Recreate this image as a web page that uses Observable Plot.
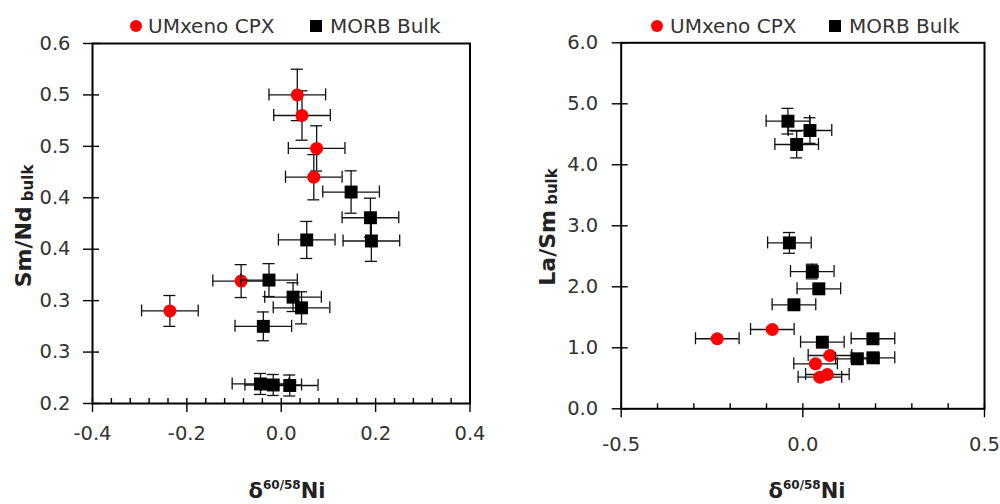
<!DOCTYPE html>
<html>
<head>
<meta charset="utf-8">
<script src="https://cdn.jsdelivr.net/npm/d3@7"></script>
<script src="https://cdn.jsdelivr.net/npm/@observablehq/plot@0.6"></script>
<style>
  body { margin: 0; background: #fff; }
  #wrap { position: relative; width: 1000px; height: 504px; font-family: "DejaVu Sans", sans-serif; color: #222; overflow: hidden; }
  .panel { position: absolute; top: 0; width: 500px; height: 504px; }
  .leg { position: absolute; font-size: 20px; line-height: 1; white-space: nowrap; color: #333; transform: translateY(-50%); }
  .dot { position: absolute; width: 12px; height: 12px; border-radius: 50%; background: #ff0000; transform: translate(-50%, -50%); }
  .sq { position: absolute; width: 12px; height: 12px; background: #000; transform: translate(-50%, -50%); }
  .xt { position: absolute; font-weight: bold; font-size: 21px; line-height: 1; white-space: nowrap; transform: translate(-50%, -50%); color: #222; }
  .xt sup { font-size: 12px; line-height: 0; vertical-align: 0.7em; }
  .yt { position: absolute; font-weight: bold; font-size: 22px; line-height: 1; white-space: nowrap; transform: translate(-50%, -50%) rotate(-90deg); color: #222; }
  .yt sub { font-size: 15px; line-height: 0; vertical-align: -0.15em; }
</style>
</head>
<body>
<div id="wrap">
  <div class="panel" id="left" style="left:0"></div>
  <div class="panel" id="right" style="left:500px"></div>

  <div class="dot" style="left:136px;top:26px"></div>
  <div class="leg" style="left:148px;top:26px">UMxeno CPX</div>
  <div class="sq" style="left:316px;top:26px"></div>
  <div class="leg" style="left:330px;top:26px">MORB Bulk</div>

  <div class="dot" style="left:657px;top:26px"></div>
  <div class="leg" style="left:670px;top:26px">UMxeno CPX</div>
  <div class="sq" style="left:835px;top:26px"></div>
  <div class="leg" style="left:849px;top:26px">MORB Bulk</div>

  <div class="xt" style="left:287px;top:491px">δ<sup>60/58</sup>Ni</div>
  <div class="xt" style="left:807px;top:491px">δ<sup>60/58</sup>Ni</div>
  <div class="yt" style="left:24px;top:226px">Sm/Nd<sub> bulk</sub></div>
  <div class="yt" style="left:548px;top:227px">La/Sm<sub> bulk</sub></div>
</div>
<script>
// ---- Left panel: Sm/Nd (bulk) vs δ60/58Ni ----
const smndCpxX  = [0.034, 0.044, 0.075, 0.069, -0.085, -0.236];
const smndCpxY  = [0.500, 0.480, 0.448, 0.420, 0.319, 0.290];
const smndCpxEx = [0.06, 0.06, 0.06, 0.06, 0.06, 0.06];
const smndCpxEy = [0.025, 0.024, 0.022, 0.022, 0.016, 0.015];

const smndMorbX  = [0.148, 0.189, 0.191, 0.054, -0.026, 0.025, 0.043, -0.038, -0.044, -0.017, 0.018];
const smndMorbY  = [0.4056, 0.3806, 0.358, 0.359, 0.320, 0.3034, 0.293, 0.275, 0.219, 0.218, 0.2175];
const smndMorbEx = [0.06, 0.06, 0.06, 0.06, 0.06, 0.06, 0.06, 0.06, 0.06, 0.06, 0.06];
const smndMorbEy = [0.0206, 0.019, 0.0198, 0.018, 0.016, 0.014, 0.0156, 0.014, 0.0102, 0.0102, 0.0102];

const leftXMajor = [-0.4, -0.2, 0, 0.2, 0.4];
const leftXMajorLabels = ["-0.4", "-0.2", "0.0", "0.2", "0.4"];
const leftXMinor = [-0.36, -0.32, -0.28, -0.24, -0.16, -0.12, -0.08, -0.04, 0.04, 0.08, 0.12, 0.16, 0.24, 0.28, 0.32, 0.36];
const leftYTicks = [0.2, 0.25, 0.3, 0.35, 0.4, 0.45, 0.5, 0.55];
const leftYTickLabels = ["0.2", "0.3", "0.3", "0.4", "0.4", "0.5", "0.5", "0.6"];

// ---- Right panel: La/Sm (bulk) vs δ60/58Ni ----
const lasmCpxX  = [-0.2355, -0.084, 0.0747, 0.035, 0.047, 0.0675];
const lasmCpxY  = [1.148, 1.30, 0.874, 0.738, 0.518, 0.562];
const lasmCpxEx = [0.06, 0.06, 0.06, 0.06, 0.06, 0.06];
const lasmCpxEy = [0.03, 0.03, 0.03, 0.03, 0.03, 0.03];

const lasmMorbX  = [-0.041, 0.0196, -0.017, -0.037, 0.026, 0.044, -0.0245, 0.0537, 0.193, 0.150, 0.193];
const lasmMorbY  = [4.715, 4.562, 4.333, 2.72, 2.25, 1.967, 1.705, 1.092, 1.148, 0.82, 0.836];
const lasmMorbEx = [0.06, 0.06, 0.06, 0.06, 0.06, 0.06, 0.06, 0.06, 0.06, 0.06, 0.06];
const lasmMorbEy = [0.21, 0.21, 0.22, 0.17, 0.12, 0.05, 0.05, 0.05, 0.05, 0.05, 0.05];

const rightXMajor = [-0.5, 0, 0.5];
const rightXMajorLabels = ["-0.5", "0.0", "0.5"];
const rightXMinor = [-0.4, -0.3, -0.2, -0.1, 0.1, 0.2, 0.3, 0.4];
const rightYTicks = [0, 1, 2, 3, 4, 5, 6];
const rightYTickLabels = ["0.0", "1.0", "2.0", "3.0", "4.0", "5.0", "6.0"];

function table(xs, ys, exs, eys) {
  return xs.map((x, i) => ({x, y: ys[i], ex: exs[i], ey: eys[i]}));
}

function errorMarks(data) {
  const s = {stroke: "#111", strokeWidth: 1.3};
  return [
    Plot.ruleY(data, {y: "y", x1: d => d.x - d.ex, x2: d => d.x + d.ex, ...s}),
    Plot.ruleX(data, {x: "x", y1: d => d.y - d.ey, y2: d => d.y + d.ey, ...s}),
    Plot.ruleX(data, {x: d => d.x - d.ex, y1: "y", y2: "y", insetTop: -6, insetBottom: -6, ...s}),
    Plot.ruleX(data, {x: d => d.x + d.ex, y1: "y", y2: "y", insetTop: -6, insetBottom: -6, ...s}),
    Plot.ruleY(data, {y: d => d.y - d.ey, x1: "x", x2: "x", insetLeft: -6, insetRight: -6, ...s}),
    Plot.ruleY(data, {y: d => d.y + d.ey, x1: "x", x2: "x", insetLeft: -6, insetRight: -6, ...s})
  ];
}

function panel(o) {
  const W = 500, H = 504;
  const plotW = W - o.ml - o.mr, plotH = H - o.mt - o.mb;
  const tk = {stroke: "black", strokeWidth: 1.4};
  return Plot.plot({
    width: W, height: H,
    marginLeft: o.ml, marginRight: o.mr, marginTop: o.mt, marginBottom: o.mb,
    style: {fontFamily: "DejaVu Sans, sans-serif", fontSize: "19.5px", color: "#333", background: "white", overflow: "visible"},
    x: {domain: o.xDomain, label: null},
    y: {domain: o.yDomain, label: null},
    marks: [
      Plot.tickX(o.xMinor, {x: d => d, insetTop: plotH - 5, ...tk}),
      Plot.tickX(o.xMajor, {x: d => d, insetTop: plotH - 5, insetBottom: -9, ...tk}),
      Plot.tickY(o.yTicks, {y: d => d, insetLeft: -9, insetRight: plotW - 7, ...tk}),
      Plot.axisX(o.xMajor, {tickSize: 0, tickPadding: o.xPad, tickFormat: d => o.xLabels[o.xMajor.indexOf(d)], fill: "#333"}),
      Plot.axisY(o.yTicks, {tickSize: 0, tickPadding: o.yPad, tickFormat: d => o.yLabels[o.yTicks.indexOf(d)], fill: "#333"}),
      ...errorMarks(o.cpx),
      Plot.dot(o.cpx, {x: "x", y: "y", r: 6.5, fill: "#ff0000", stroke: "none"}),
      ...errorMarks(o.morb),
      Plot.dot(o.morb, {x: "x", y: "y", symbol: "square", r: 7.3, fill: "black", stroke: "none"}),
      Plot.frame({stroke: "black", strokeWidth: 2})
    ]
  });
}

document.getElementById("left").append(panel({
  ml: 92, mr: 30.5, mt: 43, mb: 101,
  xDomain: [-0.4, 0.4], yDomain: [0.2, 0.55],
  xMajor: leftXMajor, xLabels: leftXMajorLabels, xMinor: leftXMinor,
  yTicks: leftYTicks, yLabels: leftYTickLabels,
  xPad: 23, yPad: 22,
  cpx: table(smndCpxX, smndCpxY, smndCpxEx, smndCpxEy),
  morb: table(smndMorbX, smndMorbY, smndMorbEx, smndMorbEy)
}));

document.getElementById("right").append(panel({
  ml: 120.7, mr: 16, mt: 42.3, mb: 95.7,
  xDomain: [-0.5, 0.5], yDomain: [0, 6],
  xMajor: rightXMajor, xLabels: rightXMajorLabels, xMinor: rightXMinor,
  yTicks: rightYTicks, yLabels: rightYTickLabels,
  xPad: 28, yPad: 23,
  cpx: table(lasmCpxX, lasmCpxY, lasmCpxEx, lasmCpxEy),
  morb: table(lasmMorbX, lasmMorbY, lasmMorbEx, lasmMorbEy)
}));
</script>
</body>
</html>
